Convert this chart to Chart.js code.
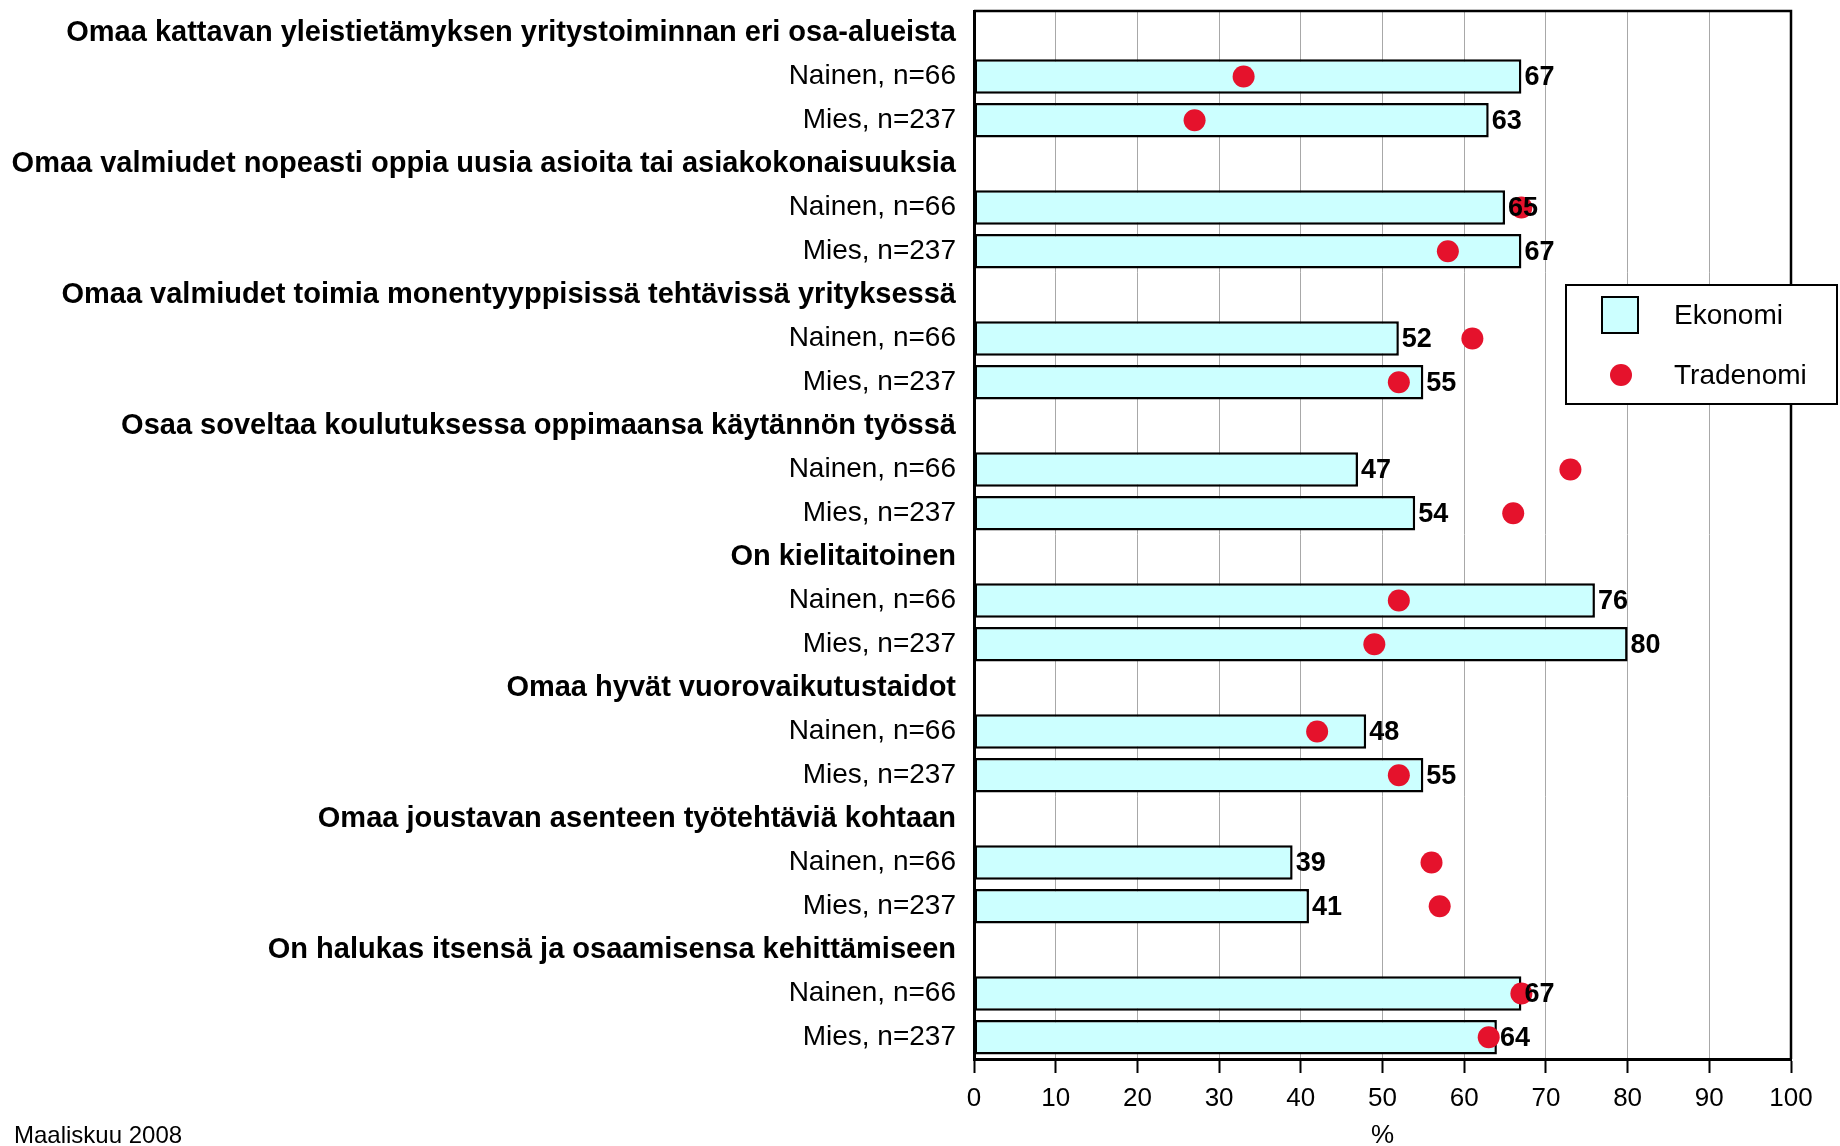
<!DOCTYPE html>
<html>
<head>
<meta charset="utf-8">
<script src="https://cdn.jsdelivr.net/npm/chart.js@4/dist/chart.umd.min.js"></script>
<style>
  body { margin: 0; background: #fff; }
  #wrap { width: 1840px; height: 1146px; position: relative; }
</style>
</head>
<body>
<div id="wrap"><canvas id="myChart"></canvas></div>
<script>
    // chart data
    var groups = [
        'Omaa kattavan yleistietämyksen yritystoiminnan eri osa-alueista',
        'Omaa valmiudet nopeasti oppia uusia asioita tai asiakokonaisuuksia',
        'Omaa valmiudet toimia monentyyppisissä tehtävissä yrityksessä',
        'Osaa soveltaa koulutuksessa oppimaansa käytännön työssä',
        'On kielitaitoinen',
        'Omaa hyvät vuorovaikutustaidot',
        'Omaa joustavan asenteen työtehtäviä kohtaan',
        'On halukas itsensä ja osaamisensa kehittämiseen'
    ];
    var subLabels = ['Nainen, n=66', 'Mies, n=237'];
    var ekonomiNainen = [67, 65, 52, 47, 76, 48, 39, 67];
    var ekonomiMies = [63, 67, 55, 54, 80, 55, 41, 64];
    var tradenomiNainen = [33, 67, 61, 73, 52, 42, 56, 67];
    var tradenomiMies = [27, 58, 52, 66, 49, 52, 57, 63];
    var xTicks = [0, 10, 20, 30, 40, 50, 60, 70, 80, 90, 100];
    var seriesNames = ['Ekonomi', 'Tradenomi'];
    var footnote = 'Maaliskuu 2008';

    // rows: header, Nainen, Mies for every group
    var labels = [], ekoData = [], traData = [];
    groups.forEach(function (g, i) {
        labels.push(g, subLabels[0], subLabels[1]);
        ekoData.push(null, ekonomiNainen[i], ekonomiMies[i]);
        traData.push(null, tradenomiNainen[i], tradenomiMies[i]);
    });

    var FONT = "'Liberation Sans', Arial, sans-serif";
    var BAR_FILL = '#CCFFFF';
    var DOT = 'rgb(229,18,44)';
    Chart.defaults.font.family = FONT;
    Chart.defaults.color = '#000';

    // value labels, frame, legend, footnote
    var extras = {
        id: 'extras',
        afterDatasetsDraw: function (chart) {
            var ctx = chart.ctx;
            var meta = chart.getDatasetMeta(0);
            ctx.save();
            ctx.font = 'bold 27px ' + FONT;
            ctx.fillStyle = '#000';
            ctx.textAlign = 'left';
            ctx.textBaseline = 'middle';
            meta.data.forEach(function (bar, i) {
                var v = ekoData[i];
                if (v === null) return;
                ctx.fillText(String(v), bar.x + 3, bar.y + 1);
            });
            // top / right frame
            var a = chart.chartArea;
            ctx.strokeStyle = '#000';
            ctx.lineWidth = 2.5;
            ctx.beginPath();
            ctx.moveTo(a.left, a.top);
            ctx.lineTo(a.right, a.top);
            ctx.lineTo(a.right, a.bottom);
            ctx.stroke();
            ctx.restore();
        },
        afterDraw: function (chart) {
            var ctx = chart.ctx;
            ctx.save();
            // legend box
            ctx.fillStyle = '#fff';
            ctx.fillRect(1566, 285, 271, 119);
            ctx.strokeStyle = '#000';
            ctx.lineWidth = 2;
            ctx.strokeRect(1566, 285, 271, 119);
            ctx.fillStyle = BAR_FILL;
            ctx.fillRect(1602, 297, 36, 36);
            ctx.strokeRect(1602, 297, 36, 36);
            ctx.fillStyle = DOT;
            ctx.beginPath();
            ctx.arc(1621, 375, 11, 0, Math.PI * 2);
            ctx.fill();
            ctx.fillStyle = '#000';
            ctx.font = '28px ' + FONT;
            ctx.textAlign = 'left';
            ctx.textBaseline = 'middle';
            ctx.fillText(seriesNames[0], 1674, 316);
            ctx.fillText(seriesNames[1], 1674, 376);
            // footnote
            ctx.font = '24px ' + FONT;
            ctx.fillText(footnote, 14, 1136);
            ctx.restore();
        }
    };

    var ctx = document.getElementById('myChart').getContext('2d');
    var myChart = new Chart(ctx, {
        type: 'bar',
        data: {
            labels: labels,
            datasets: [
                {
                    label: seriesNames[0],
                    data: ekoData,
                    backgroundColor: BAR_FILL,
                    borderColor: '#000',
                    borderWidth: 2.5,
                    borderSkipped: false,
                    barPercentage: 0.79,
                    categoryPercentage: 1,
                    order: 2
                },
                {
                    type: 'line',
                    label: seriesNames[1],
                    data: traData,
                    showLine: false,
                    pointRadius: 11,
                    pointHoverRadius: 11,
                    pointBackgroundColor: DOT,
                    pointBorderWidth: 0,
                    indexAxis: 'y',
                    order: 1
                }
            ]
        },
        options: {
            indexAxis: 'y',
            responsive: true,
            maintainAspectRatio: false,
            animation: false,
            layout: { padding: { top: 10, right: 49, left: 0, bottom: 0 } },
            plugins: {
                legend: { display: false },
                tooltip: { enabled: false }
            },
            scales: {
                x: {
                    min: 0,
                    max: 100,
                    afterBuildTicks: function (scale) {
                        scale.ticks = xTicks.map(function (v) { return { value: v }; });
                    },
                    afterFit: function (scale) { scale.height = 87; },
                    grid: {
                        color: '#a8a8a8',
                        lineWidth: 1,
                        tickColor: '#000',
                        tickWidth: 2,
                        tickLength: 14
                    },
                    border: { color: '#000', width: 3 },
                    ticks: { font: { size: 26 }, color: '#000', padding: 10 },
                    title: {
                        display: true,
                        text: '%',
                        font: { size: 26 },
                        color: '#000',
                        padding: { top: 0, bottom: -5 }
                    }
                },
                y: {
                    afterFit: function (scale) {
                        scale.width = 974;
                        scale.paddingTop = 0;
                        scale.paddingBottom = 0;
                    },
                    grid: { display: false, drawTicks: false },
                    border: { display: true, color: '#000', width: 3 },
                    ticks: {
                        autoSkip: false,
                        padding: 18,
                        color: '#000',
                        font: function (c) {
                            return c.index % 3 === 0
                                ? { size: 29, weight: 'bold' }
                                : { size: 28, weight: 'normal' };
                        }
                    }
                }
            }
        },
        plugins: [extras]
    });
</script>
</body>
</html>
